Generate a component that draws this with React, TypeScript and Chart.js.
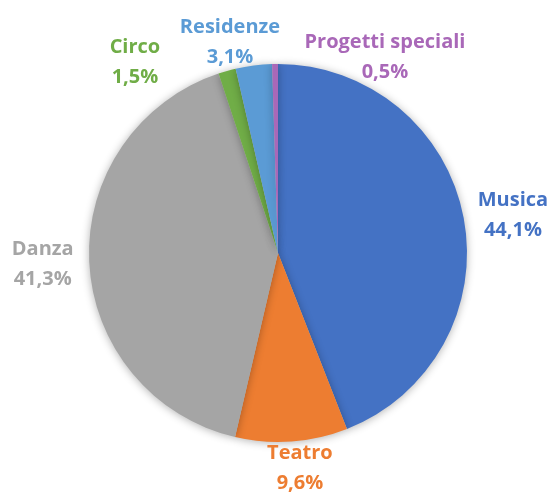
import React, { useEffect, useRef } from "react";
import { Chart, registerables } from "chart.js";

Chart.register(...registerables);

const categories = ["Musica", "Teatro", "Danza", "Circo", "Residenze", "Progetti speciali"];
const values = [44.1, 9.6, 41.3, 1.5, 3.1, 0.5];
const valueLabels = ["44,1%", "9,6%", "41,3%", "1,5%", "3,1%", "0,5%"];
const colors = ["#4472C4", "#ED7D31", "#A5A5A5", "#70AD47", "#5B9BD5", "#A968B8"];
const textColors = ["#4472C4", "#ED7D31", "#A5A5A5", "#70AD47", "#5B9BD5", "#A968B8"];

// label block centres, relative to pie centre in units of radius
const labelAnchors: [number, number][] = [
  [1.243, -0.2],
  [0.116, 1.138],
  [-1.245, 0.058],
  [-0.757, -1.011],
  [-0.254, -1.116],
  [0.566, -1.037],
];

const shadowPlugin = {
  id: "pieShadow",
  beforeDatasetsDraw(chart: any) {
    const ctx = chart.ctx;
    ctx.save();
    ctx.shadowColor = "rgba(0,0,0,0.3)";
    ctx.shadowBlur = 8;
    ctx.shadowOffsetX = 0;
    ctx.shadowOffsetY = 1;
  },
  afterDatasetsDraw(chart: any) {
    chart.ctx.restore();
  },
};

const labelPlugin = {
  id: "outerLabels",
  afterDraw(chart: any) {
    const ctx = chart.ctx;
    const meta = chart.getDatasetMeta(0);
    const arc0 = meta.data[0];
    const cx = arc0.x;
    const cy = arc0.y;
    const r = arc0.outerRadius;
    ctx.save();
    ctx.font = "bold 20px 'Open Sans'";
    ctx.textAlign = "center";
    ctx.textBaseline = "middle";
    categories.forEach((name, i) => {
      const [fx, fy] = labelAnchors[i];
      const x = cx + fx * r;
      const y = cy + fy * r;
      ctx.fillStyle = textColors[i];
      ctx.fillText(name, x, y - 15);
      ctx.fillText(valueLabels[i], x, y + 15);
    });
    ctx.restore();
  },
};

export default function App() {
  const ref = useRef<HTMLCanvasElement | null>(null);
  useEffect(() => {
    document.body.style.margin = "0";
    const chart = new Chart(ref.current as HTMLCanvasElement, {
      type: "pie",
      data: {
        labels: categories,
        datasets: [
          {
            data: values,
            backgroundColor: colors,
            borderWidth: 0,
          },
        ],
      },
      options: {
        responsive: false,
        animation: false,
        layout: { padding: { top: 64, bottom: 51, left: 89, right: 88 } },
        plugins: {
          legend: { display: false },
          tooltip: { enabled: false },
        },
      },
      plugins: [shadowPlugin, labelPlugin],
    });
    return () => chart.destroy();
  }, []);
  return (
    <div style={{ width: 555, height: 493, background: "#fff" }}>
      <canvas ref={ref} width={555} height={493} />
    </div>
  );
}
